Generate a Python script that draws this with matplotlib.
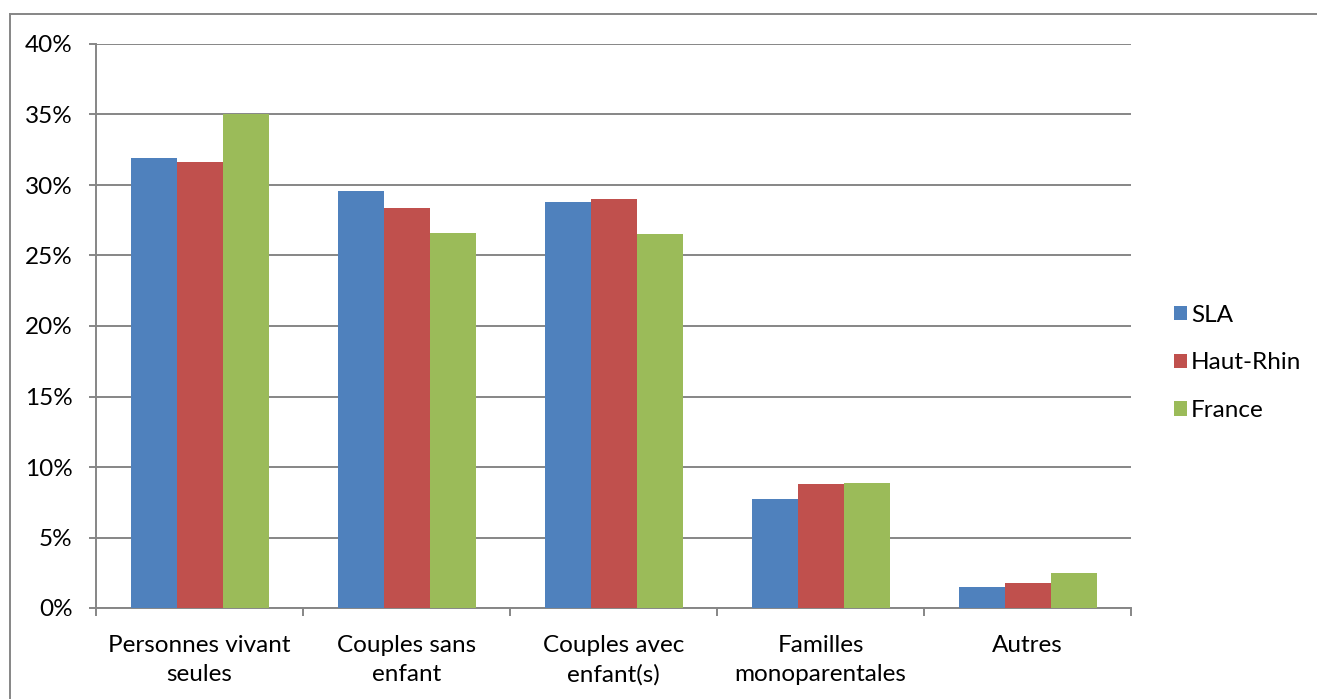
import numpy as np
import matplotlib.pyplot as plt
from matplotlib.patches import Patch
from matplotlib.lines import Line2D

plt.rcParams['font.family'] = ['Lato', 'DejaVu Sans']

# Data (share of households, %)
categories = ["Personnes vivant\nseules", "Couples sans\nenfant", "Couples avec\nenfant(s)",
              "Familles\nmonoparentales", "Autres"]
sla = [31.9, 29.6, 28.8, 7.7, 1.5]
haut_rhin = [31.6, 28.4, 29.0, 8.8, 1.8]
france = [35.0, 26.6, 26.5, 8.9, 2.5]

series = [("SLA", sla, "#4F81BD"),
          ("Haut-Rhin", haut_rhin, "#C0504D"),
          ("France", france, "#9BBB59")]

grid_col = "#868686"
fs = 17.5

fig = plt.figure(figsize=(13.17, 6.99), dpi=100)
ax = fig.add_axes([96 / 1317, 1 - 608 / 699, (1131 - 96) / 1317, (608 - 44) / 699])

x = np.arange(len(categories))
w = 1 / 4.5
for i, (name, vals, col) in enumerate(series):
    ax.bar(x + (i - 1) * w, vals, width=w, color=col, label=name, zorder=3)

ax.set_xlim(-0.5, len(categories) - 0.5)
ax.set_ylim(0, 40)
ax.set_yticks(np.arange(0, 41, 5))
ax.set_yticklabels([f"{v}%" for v in range(0, 41, 5)], fontsize=fs)
ax.yaxis.grid(True, color=grid_col, linewidth=1.4, zorder=0)

ax.set_xticks(x)
ax.set_xticklabels(categories, fontsize=fs, linespacing=1.45)
ax.set_xticks(np.arange(-0.5, len(categories)), minor=True)
ax.tick_params(axis='x', which='major', length=0, pad=19.5)
ax.tick_params(axis='x', which='minor', length=6, width=1.4, color=grid_col, direction='out')
ax.tick_params(axis='y', length=5, width=1.4, color=grid_col, pad=12)

for s in ['top', 'right']:
    ax.spines[s].set_visible(False)
for s in ['left', 'bottom']:
    ax.spines[s].set_color(grid_col)
    ax.spines[s].set_linewidth(1.4)

handles = [Patch(facecolor=c, label=n) for n, _, c in series]
fig.legend(handles=handles, loc='center left', bbox_to_anchor=(1152 / 1317, 1 - 363 / 699),
           frameon=False, fontsize=fs, handlelength=0.55, handleheight=0.55,
           handletextpad=0.15, labelspacing=1.1)

# chart frame (left and top edges visible)
fig.add_artist(Line2D([10 / 1317, 10 / 1317], [0, 1 - 14 / 699], color=grid_col, lw=1.4,
                      transform=fig.transFigure))
fig.add_artist(Line2D([10 / 1317, 1], [1 - 14 / 699, 1 - 14 / 699], color=grid_col, lw=1.4,
                      transform=fig.transFigure))

fig.savefig("out.png", dpi=100)
